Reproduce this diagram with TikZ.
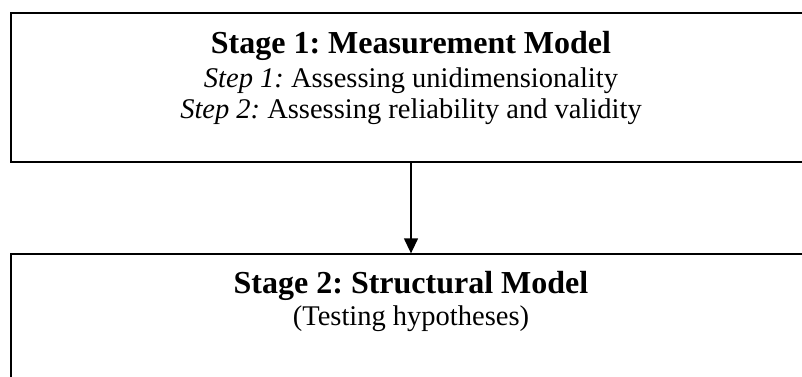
\documentclass[tikz,border=0pt]{standalone}
\usepackage{fontspec}
\setmainfont{Liberation Serif}
\usetikzlibrary{arrows.meta}
\frenchspacing
\tikzset{
  stagebox/.style={draw=black, line width=1.3pt, rectangle, minimum width=800pt, inner sep=0pt},
  title/.style={anchor=base, inner sep=0pt, font=\fontsize{32}{36}\selectfont\bfseries},
  subline/.style={anchor=base, inner sep=0pt, font=\fontsize{28.5}{32}\selectfont},
  flow/.style={line width=1.3pt, -{Triangle[length=15pt,width=14pt]}}
}
\begin{document}
\begin{tikzpicture}[x=1pt,y=1pt]
  \useasboundingbox (0,0) rectangle (802,376);
  % stage boxes (they run past the right and lower edges)
  \node[stagebox, minimum height=149pt] (s1) at (411,288.5) {};
  \node[stagebox, minimum height=172pt] (s2) at (411,36) {};
  % stage 1 text
  \node[title] (t1) at (411,323) {Stage 1: Measurement Model};
  \node[subline] (t1a) at (411,289) {\textit{Step 1:} Assessing unidimensionality};
  \node[subline] (t1b) at (411,258) {\textit{Step 2:} Assessing reliability and validity};
  % stage 2 text
  \node[title] (t2) at (411,83) {Stage 2: Structural Model};
  \node[subline] (t2a) at (411,51) {(Testing hypotheses)};
  % connector
  \draw[flow] (s1.south) -- (s2.north);
\end{tikzpicture}
\end{document}
